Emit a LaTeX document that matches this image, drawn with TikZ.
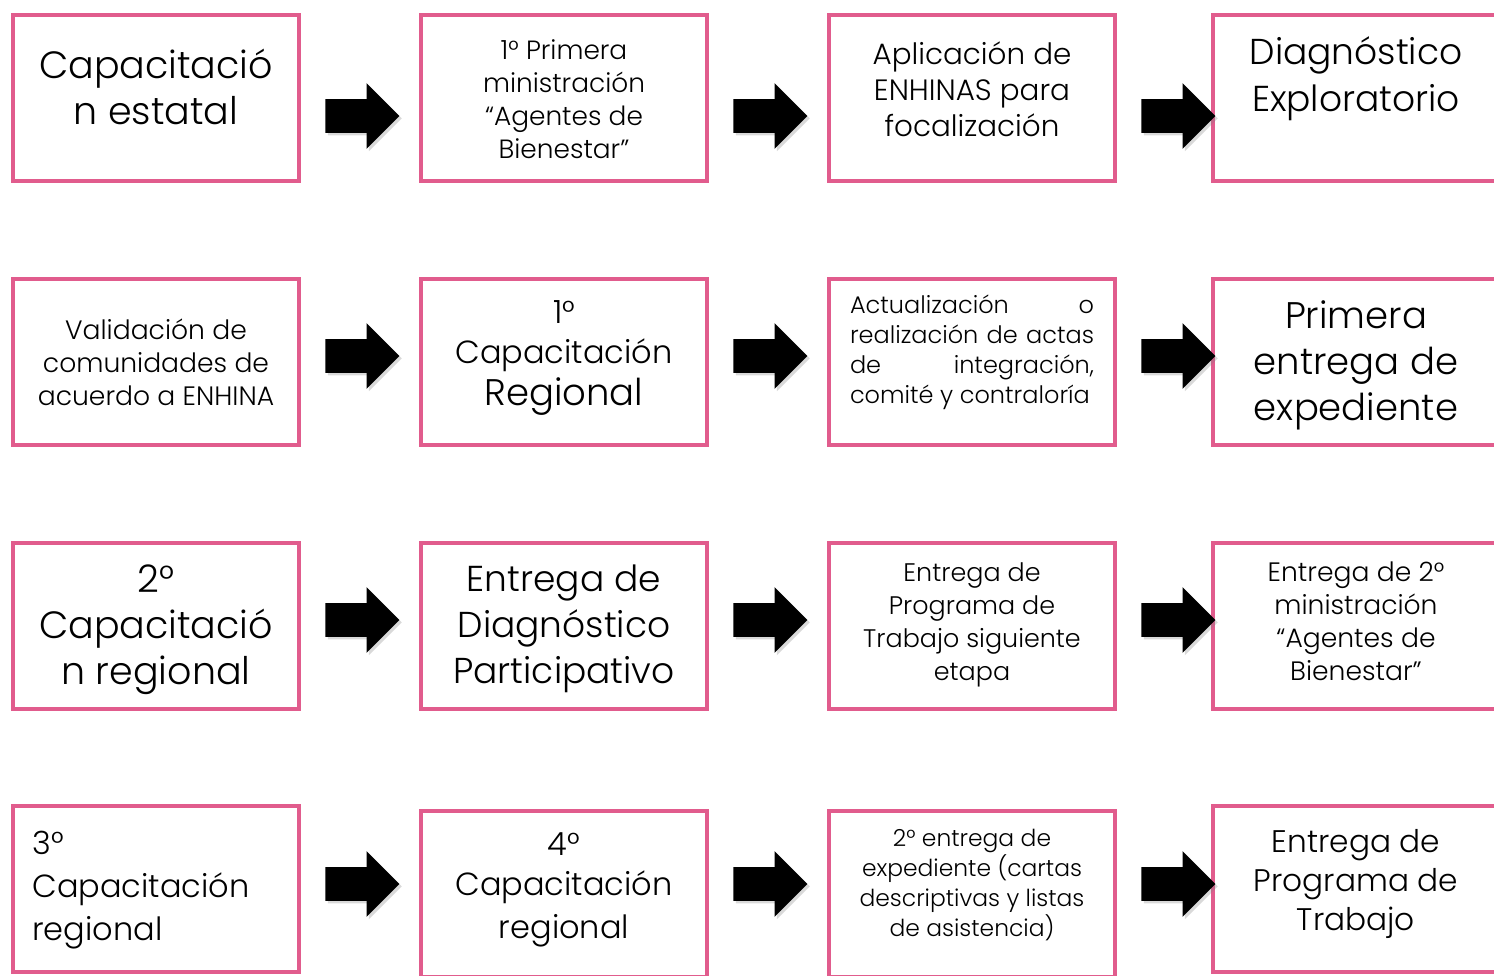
\documentclass[tikz,border=0pt]{standalone}
\usepackage{fontspec}
\setmainfont{Poppins}[UprightFont={* Light}]
\usetikzlibrary{shapes.arrows,shadows}
\definecolor{rosa}{RGB}{225,92,141}
\newcommand{\fsize}[2]{\fontsize{#1}{#2}\selectfont}

\begin{document}
\begin{tikzpicture}[x=0.5pt,y=-0.5pt,
    caja/.style={draw=rosa, line width=2pt, minimum width=143pt, minimum height=83pt, inner sep=0pt},
    texto/.style={align=center, inner sep=0pt},
    flecha/.style={single arrow, fill=black, inner xsep=0pt, inner ysep=8.25pt, minimum height=37pt,
      single arrow head extend=8pt, anchor=tail,
      drop shadow={shadow xshift=1.2pt, shadow yshift=-1.2pt, opacity=0.3}}]
  \useasboundingbox (0,0) rectangle (1494,975);
  % cajas
  \node[caja] (capest) at (156, 98) {};
  \node[caja] (minis1) at (564, 98) {};
  \node[caja] (enhinas) at (972, 98) {};
  \node[caja] (diagexp) at (1356, 98) {};
  %
  \node[caja] (valida) at (156, 362) {};
  \node[caja] (cap1) at (564, 362) {};
  \node[caja] (actas) at (972, 362) {};
  \node[caja] (exped1) at (1356, 362) {};
  %
  \node[caja] (cap2) at (156, 626) {};
  \node[caja] (diagpart) at (564, 626) {};
  \node[caja] (progsig) at (972, 626) {};
  \node[caja] (minis2) at (1356, 626) {};
  %
  \node[caja] (cap3) at (156, 889) {};
  \node[caja] (cap4) at (564, 894) {};
  \node[caja] (exped2) at (972, 894) {};
  \node[caja] (progtrab) at (1356, 889) {};
  % textos
  \node[texto, font=\fsize{19}{23}] (capesttxt) at ([yshift=5.5pt]capest.center) {Capacitació\\n estatal};
  \node[texto, font=\fsize{13.2}{16.5}] (minis1txt) at ([yshift=-0.5pt]minis1.center) {1° Primera\\ministración\\“Agentes de\\Bienestar”};
  \node[texto, font=\fsize{14.7}{18}] (enhinastxt) at ([yshift=4.5pt]enhinas.center) {Aplicación de\\ENHINAS para\\focalización};
  \node[texto, font=\fsize{18}{23.5}] (diagexptxt) at ([yshift=9.5pt]diagexp.center) {Diagnóstico\\Exploratorio};
  %
  \node[texto, font=\fsize{13.3}{16.5}] (validatxt) at (valida.center) {Validación de\\comunidades de\\acuerdo a ENHINA};
  \node[texto, font=\fsize{16}{20}] (cap1txt) at ([yshift=2pt]cap1.center) {1°\\Capacitación\\[1pt]{\fsize{18.5}{22}Regional}};
  \node[texto, align=left, font=\fsize{12}{15}] (actastxt) at ([yshift=5pt]actas.center)
    {\makebox[122pt][s]{Actualización o}\\\makebox[122pt][s]{realización de actas}\\\makebox[122pt][s]{de integración,}\\comité y contraloría};
  \node[texto, font=\fsize{18.5}{23}] (exped1txt) at ([yshift=-1.5pt]exped1.center) {Primera\\entrega de\\expediente};
  %
  \node[texto, font=\fsize{19}{23}] (cap2txt) at ([yshift=-1.75pt]cap2.center) {2°\\Capacitació\\n regional};
  \node[texto, font=\fsize{18}{23}] (diagparttxt) at ([yshift=-1.5pt]diagpart.center) {Entrega de\\Diagnóstico\\Participativo};
  \node[texto, font=\fsize{12.7}{16.5}] (progsigtxt) at ([yshift=0.75pt]progsig.center) {Entrega de\\Programa de\\Trabajo siguiente\\etapa};
  \node[texto, font=\fsize{13.3}{16.5}] (minis2txt) at ([yshift=2.5pt]minis2.center) {Entrega de 2°\\ministración\\“Agentes de\\Bienestar”};
  %
  \node[texto, align=left, anchor=west, font=\fsize{16}{21.5}] (cap3txt) at ([xshift=10.5pt,yshift=-0.5pt]cap3.west) {3°\\Capacitación\\regional};
  \node[texto, font=\fsize{16}{21.5}] (cap4txt) at ([yshift=2pt]cap4.center) {4°\\[-1.5pt]Capacitación\\regional};
  \node[texto, font=\fsize{11.7}{15}] (exped2txt) at ([yshift=4.5pt]exped2.center) {2° entrega de\\expediente (cartas\\descriptivas y listas\\de asistencia)};
  \node[texto, font=\fsize{15.6}{19.5}] (progtrabtxt) at ([yshift=2.5pt]progtrab.center) {Entrega de\\Programa de\\Trabajo};
  % flechas
  \node[flecha] (f1) at ([xshift=12pt,yshift=-9pt]capest.east) {};
  \node[flecha] (f2) at ([xshift=12pt,yshift=-9pt]minis1.east) {};
  \node[flecha] (f3) at ([xshift=12pt,yshift=-9pt]enhinas.east) {};
  \node[flecha] (f4) at ([xshift=12pt,yshift=3pt]valida.east) {};
  \node[flecha] (f5) at ([xshift=12pt,yshift=3pt]cap1.east) {};
  \node[flecha] (f6) at ([xshift=12pt,yshift=3pt]actas.east) {};
  \node[flecha] (f7) at ([xshift=12pt,yshift=3pt]cap2.east) {};
  \node[flecha] (f8) at ([xshift=12pt,yshift=3pt]diagpart.east) {};
  \node[flecha] (f9) at ([xshift=12pt,yshift=3pt]progsig.east) {};
  \node[flecha] (f10) at ([xshift=12pt,yshift=2.5pt]cap3.east) {};
  \node[flecha] (f11) at ([xshift=12pt,yshift=2.5pt]cap4.east |- cap3.east) {};
  \node[flecha] (f12) at ([xshift=12pt,yshift=2.5pt]exped2.east |- progtrab.east) {};
\end{tikzpicture}
\end{document}
